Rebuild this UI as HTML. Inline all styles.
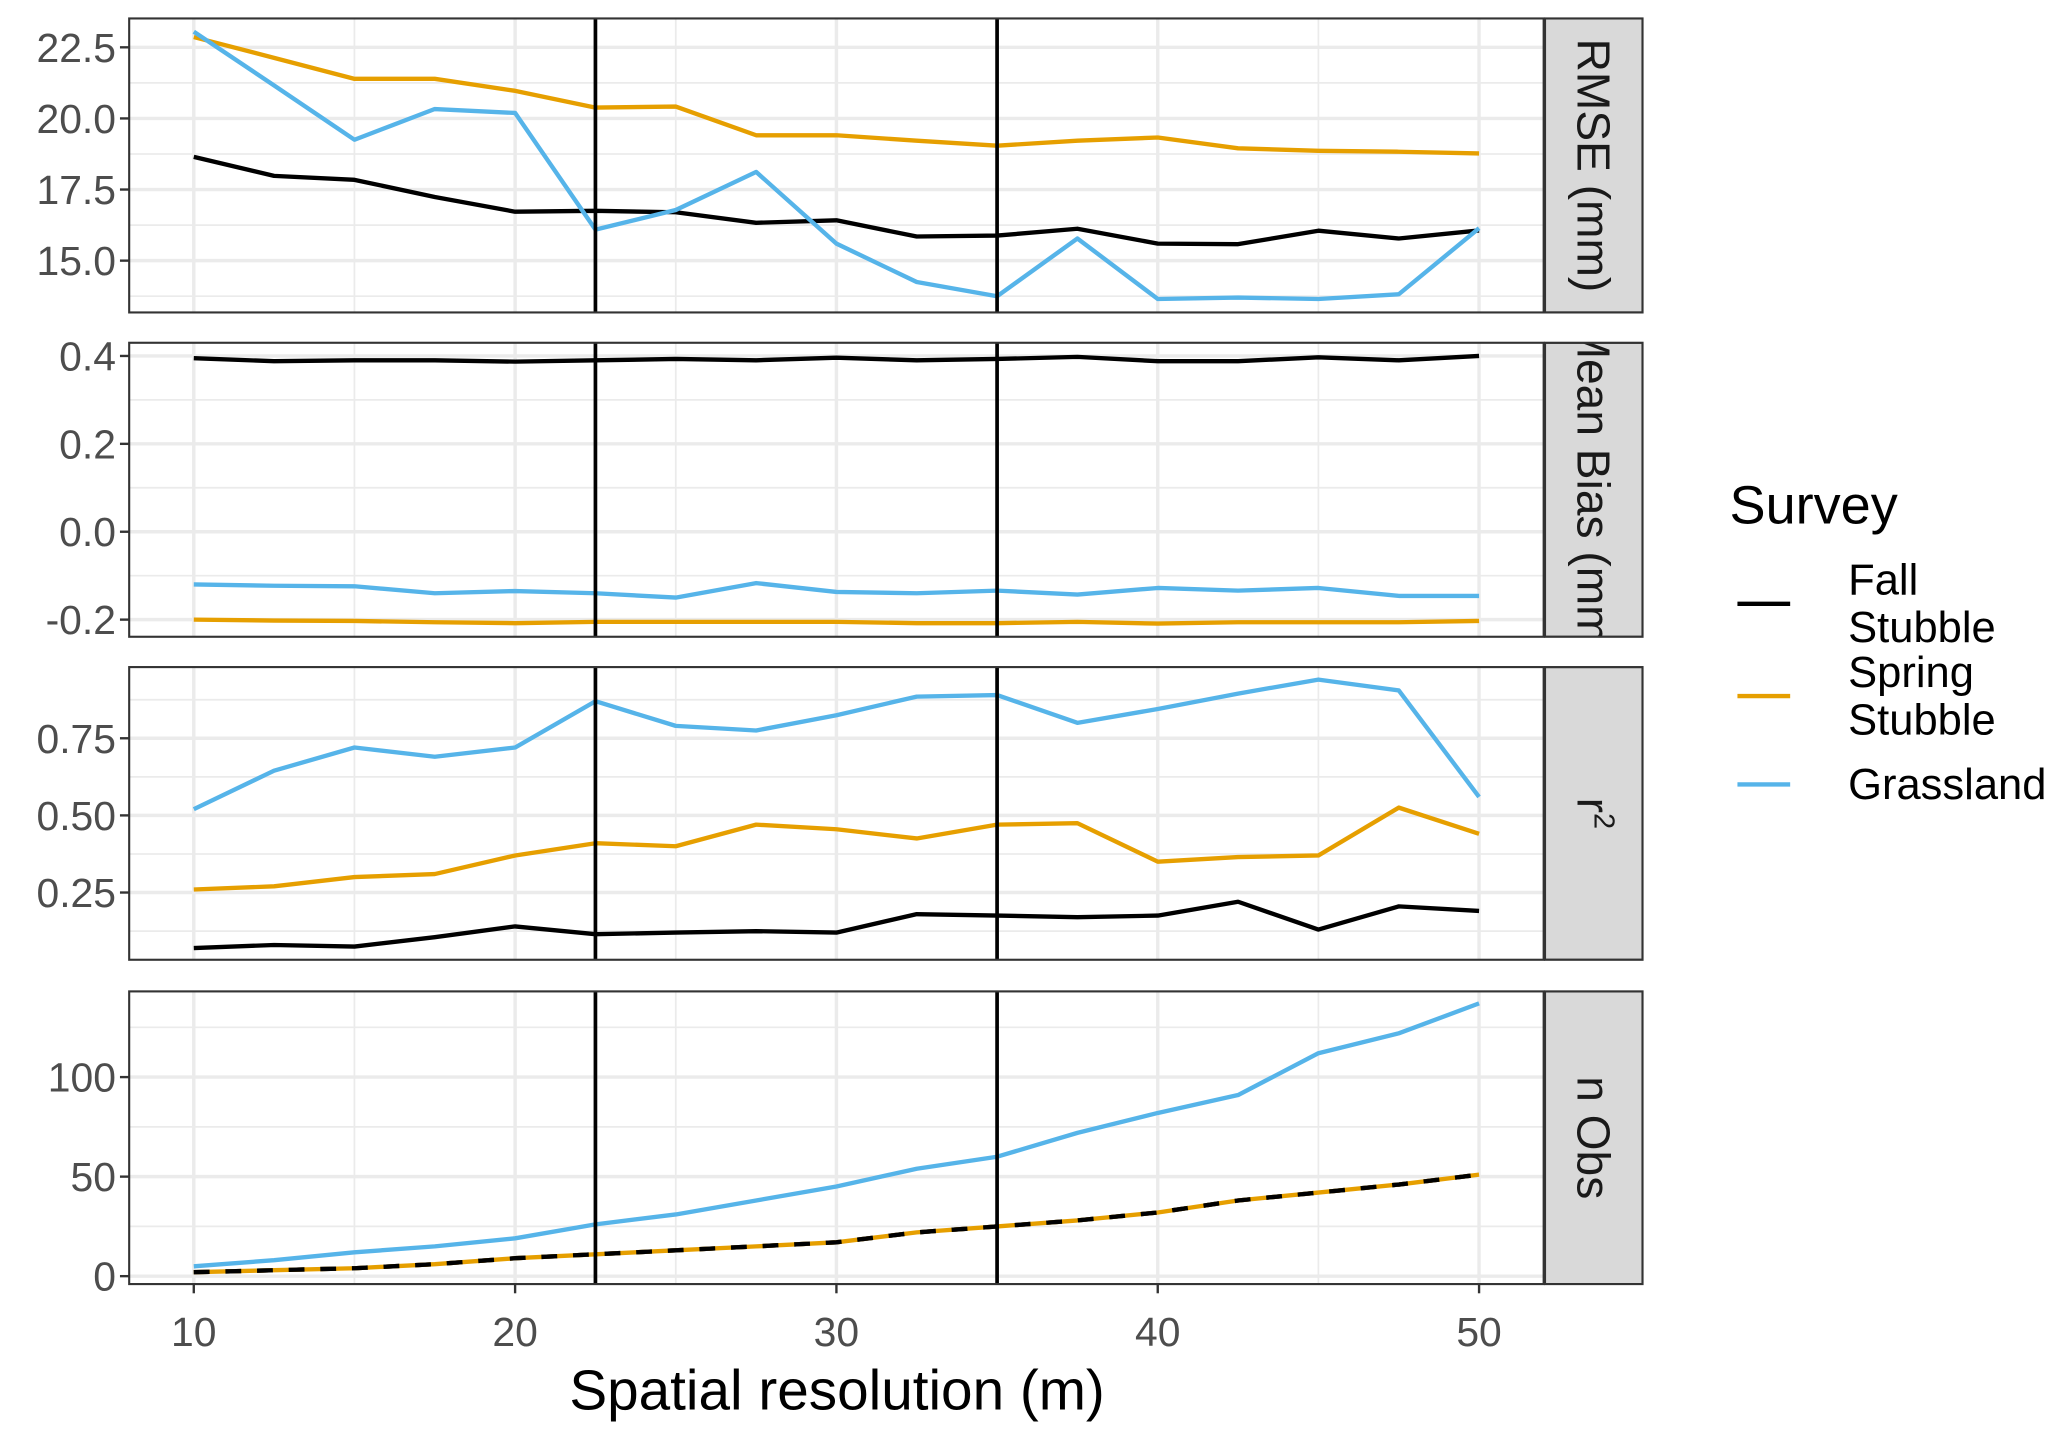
<!DOCTYPE html>
<html><head><meta charset="utf-8"><style>
html,body{margin:0;padding:0;background:#fff}
svg{display:block;font-family:"Liberation Sans",Arial,sans-serif}
</style></head><body>
<svg id="chart" width="2067" height="1437" viewBox="0 0 1568 1090" preserveAspectRatio="none" xmlns="http://www.w3.org/2000/svg"></svg>
<script>
const xs = [10,12.5,15,17.5,20,22.5,25,27.5,30,32.5,35,37.5,40,42.5,45,47.5,50];
const rmseFall = [18.65,17.98,17.84,17.24,16.72,16.75,16.7,16.33,16.42,15.85,15.88,16.12,15.6,15.58,16.05,15.78,16.06];
const rmseSpring = [22.86,22.13,21.39,21.39,20.97,20.38,20.42,19.41,19.41,19.22,19.04,19.22,19.33,18.95,18.86,18.83,18.77];
const rmseGrass = [23.05,21.16,19.25,20.33,20.19,16.09,16.78,18.12,15.6,14.25,13.75,15.78,13.65,13.7,13.65,13.82,16.14];
const biasFall = [0.395,0.388,0.39,0.39,0.387,0.39,0.393,0.39,0.396,0.39,0.393,0.398,0.388,0.388,0.397,0.39,0.4];
const biasSpring = [-0.2,-0.202,-0.203,-0.206,-0.208,-0.205,-0.205,-0.205,-0.205,-0.208,-0.208,-0.205,-0.209,-0.206,-0.206,-0.206,-0.203];
const biasGrass = [-0.12,-0.123,-0.124,-0.14,-0.135,-0.14,-0.15,-0.117,-0.137,-0.14,-0.134,-0.143,-0.128,-0.134,-0.128,-0.146,-0.146];
const r2Fall = [0.07,0.08,0.075,0.105,0.14,0.115,0.12,0.125,0.12,0.18,0.175,0.17,0.175,0.22,0.13,0.205,0.19];
const r2Spring = [0.26,0.27,0.3,0.31,0.37,0.41,0.40,0.47,0.455,0.425,0.47,0.475,0.35,0.365,0.37,0.525,0.44];
const r2Grass = [0.52,0.645,0.72,0.69,0.72,0.87,0.79,0.775,0.825,0.885,0.89,0.80,0.845,0.895,0.94,0.905,0.56];
const nFall = [2,3,4,6,9,11,13,15,17,22,25,28,32,38,42,46,51];
const nSpring = [2,3,4,6,9,11,13,15,17,22,25,28,32,38,42,46,51];
const nGrass = [5,8,12,15,19,26,31,38,45,54,60,72,82,91,112,122,137];
const xTicks = [10,20,30,40,50];
const xMinor = [15,25,35,45];
const vlines = [22.5,35];

const NS='http://www.w3.org/2000/svg';
const svg=document.getElementById('chart');
function mk(tag,attrs,parent){const e=document.createElementNS(NS,tag);for(const k in attrs)e.setAttribute(k,attrs[k]);(parent||svg).appendChild(e);return e;}
const L=98,R=1171,SR=1246;
const xS=v=>147+(v-10)*24.375;
const panels=[
 {name:'rmse',top:14,bot:237,v0:22.5,p0:35.9,v1:15,p1:197.7,ticks:[15,17.5,20,22.5],lab:['15.0','17.5','20.0','22.5'],minor:[13.75,16.25,18.75,21.25],strip:'RMSE (mm)',series:[rmseFall,rmseSpring,rmseGrass]},
 {name:'bias',top:260,bot:483,v0:0.4,p0:270,v1:-0.2,p1:470,ticks:[-0.2,0,0.2,0.4],lab:['-0.2','0.0','0.2','0.4'],minor:[-0.1,0.1,0.3],strip:'Mean Bias (mm)',series:[biasFall,biasSpring,biasGrass]},
 {name:'r2',top:506,bot:728,v0:0.75,p0:560,v1:0.25,p1:677,ticks:[0.25,0.5,0.75],lab:['0.25','0.50','0.75'],minor:[0.125,0.375,0.625,0.875],strip:'r2',series:[r2Fall,r2Spring,r2Grass]},
 {name:'nobs',top:752,bot:974,v0:100,p0:817,v1:0,p1:968,ticks:[0,50,100],lab:['0','50','100'],minor:[25,75,125],strip:'n Obs',series:[nFall,nSpring,nGrass]}
];
const cols=['#000000','#E69F00','#56B4E9'];
const snames=['fall-stubble','spring-stubble','grassland'];
panels.forEach(p=>{
 const yS=v=>p.p0+(v-p.v0)*(p.p1-p.p0)/(p.v1-p.v0);
 const g=mk('g',{});
 
 
 const cp=mk('clipPath',{id:'c'+p.name},g);mk('rect',{x:L,y:p.top,width:R-L,height:p.bot-p.top},cp);
 mk('rect',{x:L,y:p.top,width:R-L,height:p.bot-p.top,fill:'#fff'},g);
 const gg=mk('g',{'clip-path':'url(#c'+p.name+')'},g);
 p.minor.forEach(v=>mk('line',{x1:L,x2:R,y1:yS(v),y2:yS(v),stroke:'#ebebeb','stroke-width':1.3},gg));
 xMinor.forEach(v=>mk('line',{x1:xS(v),x2:xS(v),y1:p.top,y2:p.bot,stroke:'#ebebeb','stroke-width':1.3},gg));
 p.ticks.forEach(v=>mk('line',{x1:L,x2:R,y1:yS(v),y2:yS(v),stroke:'#ebebeb','stroke-width':2.6},gg));
 xTicks.forEach(v=>mk('line',{x1:xS(v),x2:xS(v),y1:p.top,y2:p.bot,stroke:'#ebebeb','stroke-width':2.6},gg));
 p.series.forEach((s,i)=>{
  const d=s.map((v,j)=>(j?'L':'M')+xS(xs[j]).toFixed(1)+','+yS(v).toFixed(1)).join('');
  const a={d:d,fill:'none',stroke:cols[i],'stroke-width':3.3,'stroke-linejoin':'round'};
  if(p.name==='nobs'&&i===0)a['stroke-dasharray']='12 12';
  const path=mk('path',a,gg);
  
  
 });
 if(p.name==='nobs'){
  const s=p.series[0];const d=s.map((v,j)=>(j?'L':'M')+xS(xs[j]).toFixed(1)+','+yS(v).toFixed(1)).join('');
  mk('path',{d:d,fill:'none',stroke:'#000','stroke-width':3.3,'stroke-dasharray':'12 12'},gg);
 }
 vlines.forEach(v=>mk('line',{x1:xS(v),x2:xS(v),y1:p.top,y2:p.bot,stroke:'#000','stroke-width':2.8},gg));
 mk('rect',{x:L,y:p.top,width:R-L,height:p.bot-p.top,fill:'none',stroke:'#333','stroke-width':1.6},g);
 p.ticks.forEach((v,i)=>{
  mk('line',{x1:L-7,x2:L,y1:yS(v),y2:yS(v),stroke:'#333','stroke-width':1.8},g);
  const t=mk('text',{x:L-10,y:yS(v)+11,'text-anchor':'end','font-size':31,fill:'#4d4d4d'},g);t.textContent=p.lab[i];
 });
 const sc=mk('clipPath',{id:'s'+p.name},g);mk('rect',{x:R+1,y:p.top,width:SR-R-1,height:p.bot-p.top},sc);
 const sg=mk('g',{'clip-path':'url(#s'+p.name+')'},g);
 mk('rect',{x:R+1,y:p.top,width:SR-R-1,height:p.bot-p.top,fill:'#d9d9d9',stroke:'#333','stroke-width':1.6},sg);
 const cx=(R+SR)/2,cy=(p.top+p.bot)/2;
 const st=mk('text',{x:cx,y:cy,'text-anchor':'middle','font-size':35,fill:'#1a1a1a',transform:'rotate(90 '+cx+' '+cy+') translate(0 12)'},sg);
 
 
 if(p.strip==='r2'){st.textContent='r';const ts=mk('tspan',{'font-size':22,dy:-13},st);ts.textContent='2';}
 else st.textContent=p.strip;
 mk('rect',{x:R+1,y:p.top,width:SR-R-1,height:p.bot-p.top,fill:'none',stroke:'#333','stroke-width':1.6},g);
});
xTicks.forEach(v=>{
 mk('line',{x1:xS(v),x2:xS(v),y1:974,y2:981,stroke:'#333','stroke-width':1.8});
 const t=mk('text',{x:xS(v),y:1021,'text-anchor':'middle','font-size':31,fill:'#4d4d4d'});t.textContent=v;
});
const xt=mk('text',{x:635,y:1069,'text-anchor':'middle','font-size':43,fill:'#000'});


xt.textContent='Spatial resolution (m)';
const lg=mk('g',{});


const lt=mk('text',{x:1312,y:397,'font-size':41,fill:'#000'},lg);lt.textContent='Survey';
const ent=[[458,['Fall','Stubble']],[528,['Spring','Stubble']],[595,['Grassland']]];
ent.forEach((e,i)=>{
 const eg=mk('g',{},lg);
 
 
 mk('line',{x1:1318,x2:1358,y1:e[0],y2:e[0],stroke:cols[i],'stroke-width':3.3},eg);
 if(e[1].length===2){
  const a=mk('text',{x:1402,y:e[0]-7,'font-size':33,fill:'#000'},eg);a.textContent=e[1][0];
  const b=mk('text',{x:1402,y:e[0]+29,'font-size':33,fill:'#000'},eg);b.textContent=e[1][1];
 } else {const a=mk('text',{x:1402,y:e[0]+11,'font-size':33,fill:'#000'},eg);a.textContent=e[1][0];}
});
</script>
</body></html>
